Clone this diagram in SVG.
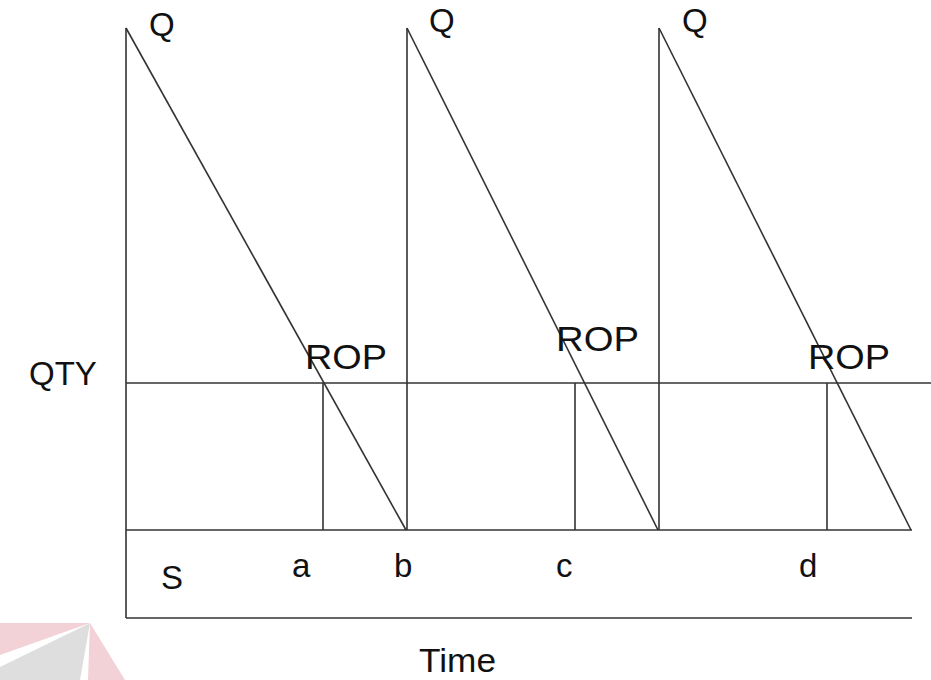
<svg xmlns="http://www.w3.org/2000/svg" width="931" height="680" viewBox="0 0 931 680">
<style>
.ln{stroke:#333;stroke-width:1.6;fill:none}
.t{font-family:"Liberation Sans",Arial,sans-serif;font-size:33px;fill:#111}
.rop{font-size:35px}
</style>
<rect width="931" height="680" fill="#fff"/>
<g id="watermark">
<polygon points="0,623 90,623 0,655" fill="#f2d2d6"/>
<polygon points="90,623 0,667 0,680 80,680" fill="#dedede"/>
<polygon points="90,623 88,680 125,680" fill="#f2d2d6"/>
</g>
<g id="connectors">
<line class="ln" x1="126" y1="28" x2="126" y2="618"/>
<line class="ln" x1="126" y1="618" x2="912" y2="618"/>
<line class="ln" x1="126" y1="530" x2="912" y2="530"/>
<line class="ln" x1="126" y1="383" x2="931" y2="383"/>
<line class="ln" x1="126" y1="28" x2="406" y2="530"/>
<line class="ln" x1="407" y1="530" x2="407" y2="28"/>
<line class="ln" x1="407" y1="28" x2="658" y2="530"/>
<line class="ln" x1="659" y1="530" x2="659" y2="28"/>
<line class="ln" x1="659" y1="28" x2="911" y2="530"/>
<line class="ln" x1="323" y1="383" x2="323" y2="530"/>
<line class="ln" x1="575" y1="383" x2="575" y2="530"/>
<line class="ln" x1="827" y1="383" x2="827" y2="530"/>
</g>
<g id="labels">
<text class="t" x="149" y="36">Q</text>
<text class="t" x="429" y="32">Q</text>
<text class="t" x="682" y="32">Q</text>
<text class="t" x="29" y="385">QTY</text>
<text class="t rop" x="305" y="369" textLength="82" lengthAdjust="spacingAndGlyphs">ROP</text>
<text class="t rop" x="556" y="351" textLength="83" lengthAdjust="spacingAndGlyphs">ROP</text>
<text class="t rop" x="808" y="369" textLength="82" lengthAdjust="spacingAndGlyphs">ROP</text>
<text class="t" x="161" y="589">S</text>
<text class="t" x="292" y="577">a</text>
<text class="t" x="394" y="577">b</text>
<text class="t" x="556" y="577">c</text>
<text class="t" x="799" y="577">d</text>
<text class="t" x="419" y="672" textLength="77" lengthAdjust="spacingAndGlyphs">Time</text>
</g>
</svg>
